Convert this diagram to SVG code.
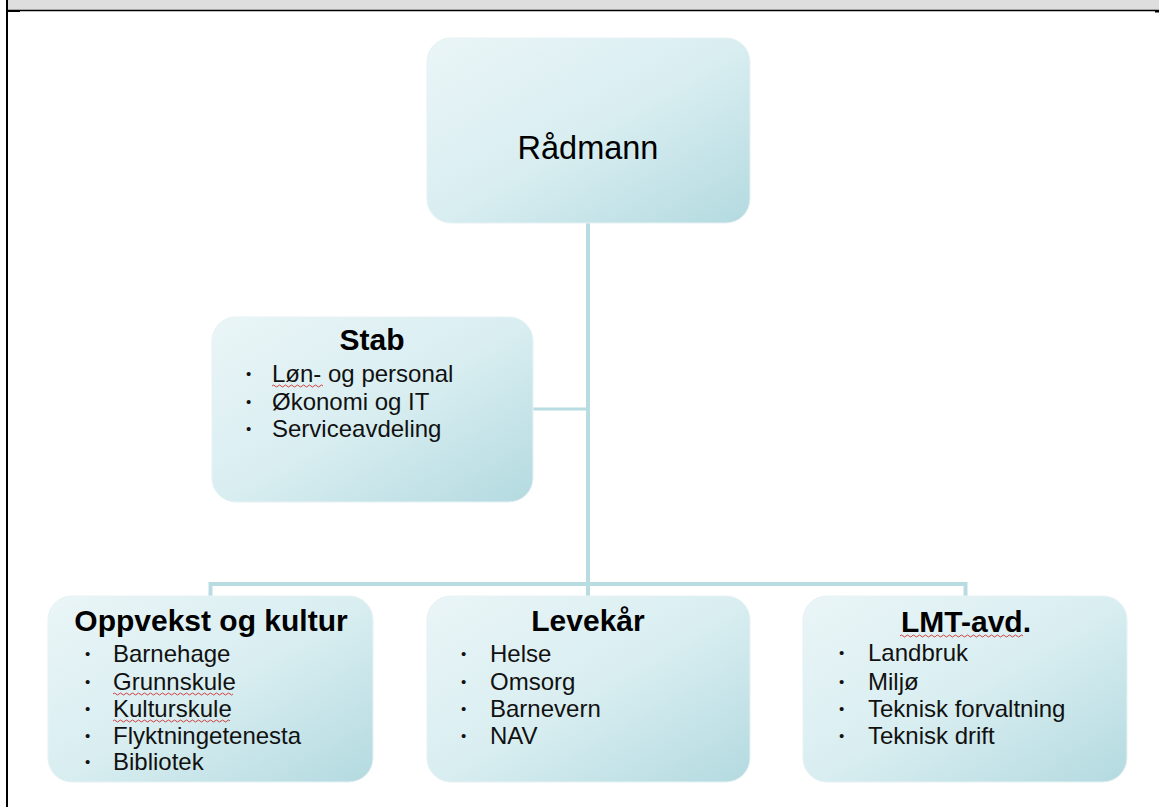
<svg xmlns="http://www.w3.org/2000/svg" width="1159" height="807" viewBox="0 0 1159 807">
<defs>
<linearGradient id="boxg" x1="0" y1="0" x2="1" y2="1">
<stop offset="0" stop-color="#eaf5f7"/>
<stop offset="0.5" stop-color="#d9eef1"/>
<stop offset="1" stop-color="#b3dae0"/>
</linearGradient>
<style>
.box{fill:url(#boxg);stroke:#e6f2f4;stroke-width:1}
.conn{stroke:#b9dce2;stroke-width:4;fill:none}
.title{font-family:"Liberation Sans",Arial,sans-serif;font-weight:bold;font-size:30px;fill:#000;text-anchor:middle}
.item{font-family:"Liberation Sans",Arial,sans-serif;font-size:24px;fill:#111}
.bul{font-family:"Liberation Sans",Arial,sans-serif;font-size:15px;fill:#111}
.wavy{stroke:#d04040;stroke-width:1;fill:none}
</style>
</defs>
<rect x="0" y="0" width="1159" height="807" fill="#fff"/>
<rect x="8" y="0" width="1151" height="10" fill="#dedede"/>
<line x1="6" y1="10.5" x2="1159" y2="10.5" stroke="#000" stroke-width="1.5"/>
<rect x="8" y="10" width="12" height="2" fill="#000"/>
<rect x="1155" y="10" width="4" height="2.5" fill="#000"/>
<line x1="7" y1="0" x2="7" y2="807" stroke="#000" stroke-width="2"/>

<g id="connectors">
<line class="conn" x1="588" y1="223" x2="588" y2="596"/>
<line class="conn" x1="533" y1="409" x2="588" y2="409" style="stroke-width:3"/>
<line class="conn" x1="210.5" y1="584" x2="965.5" y2="584"/>
<line class="conn" x1="210.5" y1="582" x2="210.5" y2="597"/>
<line class="conn" x1="965.5" y1="582" x2="965.5" y2="597"/>
</g>

<g id="radmann">
<rect class="box" x="427" y="38" width="323" height="185" rx="24"/>
<text x="588" y="159" font-family="'Liberation Sans',Arial,sans-serif" font-size="32.5" text-anchor="middle" fill="#000">Rådmann</text>
</g>

<g id="stab">
<rect class="box" x="212" y="317" width="321" height="185" rx="24"/>
<text class="title" x="372" y="350">Stab</text>
<g class="bul">
<text x="246" y="379">•</text>
<text x="246" y="407">•</text>
<text x="246" y="434">•</text>
</g>
<g class="item">
<text x="272" y="382">Løn- og personal</text>
<text x="272" y="410">Økonomi og IT</text>
<text x="272" y="437">Serviceavdeling</text>
</g>
<path class="wavy" d="M272 386 q1.5 -2 3 0 t3 0 t3 0 t3 0 t3 0 t3 0 t3 0 t3 0 t3 0 t3 0 t3 0 t3 0 t3 0 t3 0 t3 0 t3 0 t3 0"/>
</g>

<g id="oppvekst">
<rect class="box" x="48" y="596" width="325" height="186" rx="24"/>
<text class="title" x="211" y="631">Oppvekst og kultur</text>
<g class="bul">
<text x="85" y="659">•</text>
<text x="85" y="687">•</text>
<text x="85" y="714">•</text>
<text x="85" y="741">•</text>
<text x="85" y="767">•</text>
</g>
<g class="item">
<text x="113" y="662">Barnehage</text>
<text x="113" y="690">Grunnskule</text>
<text x="113" y="717">Kulturskule</text>
<text x="113" y="744">Flyktningetenesta</text>
<text x="113" y="770">Bibliotek</text>
</g>
<path class="wavy" d="M113 694 q1.5 -2 3 0 t3 0 t3 0 t3 0 t3 0 t3 0 t3 0 t3 0 t3 0 t3 0 t3 0 t3 0 t3 0 t3 0 t3 0 t3 0 t3 0 t3 0 t3 0 t3 0 t3 0 t3 0 t3 0 t3 0 t3 0 t3 0 t3 0 t3 0 t3 0 t3 0 t3 0 t3 0 t3 0 t3 0 t3 0 t3 0 t3 0 t3 0 t3 0 t3 0"/>
<path class="wavy" d="M113 721 q1.5 -2 3 0 t3 0 t3 0 t3 0 t3 0 t3 0 t3 0 t3 0 t3 0 t3 0 t3 0 t3 0 t3 0 t3 0 t3 0 t3 0 t3 0 t3 0 t3 0 t3 0 t3 0 t3 0 t3 0 t3 0 t3 0 t3 0 t3 0 t3 0 t3 0 t3 0 t3 0 t3 0 t3 0 t3 0 t3 0 t3 0 t3 0 t3 0 t3 0"/>
</g>

<g id="levekar">
<rect class="box" x="427" y="596" width="323" height="186" rx="24"/>
<text class="title" x="588" y="631">Levekår</text>
<g class="bul">
<text x="461" y="659">•</text>
<text x="461" y="687">•</text>
<text x="461" y="714">•</text>
<text x="461" y="741">•</text>
</g>
<g class="item">
<text x="490" y="662">Helse</text>
<text x="490" y="690">Omsorg</text>
<text x="490" y="717">Barnevern</text>
<text x="490" y="744">NAV</text>
</g>
</g>

<g id="lmt">
<rect class="box" x="803" y="596" width="324" height="186" rx="24"/>
<text class="title" x="966" y="632">LMT-avd.</text>
<g class="bul">
<text x="839" y="658">•</text>
<text x="839" y="687">•</text>
<text x="839" y="714">•</text>
<text x="839" y="741">•</text>
</g>
<g class="item">
<text x="868" y="661">Landbruk</text>
<text x="868" y="690">Miljø</text>
<text x="868" y="717">Teknisk forvaltning</text>
<text x="868" y="744">Teknisk drift</text>
</g>
<path class="wavy" d="M900 636 q1.5 -2 3 0 t3 0 t3 0 t3 0 t3 0 t3 0 t3 0 t3 0 t3 0 t3 0 t3 0 t3 0 t3 0 t3 0 t3 0 t3 0 t3 0 t3 0 t3 0 t3 0 t3 0 t3 0 t3 0 t3 0 t3 0 t3 0 t3 0 t3 0 t3 0 t3 0 t3 0 t3 0 t3 0 t3 0 t3 0 t3 0 t3 0 t3 0 t3 0 t3 0 t3 0"/>
</g>
</svg>
